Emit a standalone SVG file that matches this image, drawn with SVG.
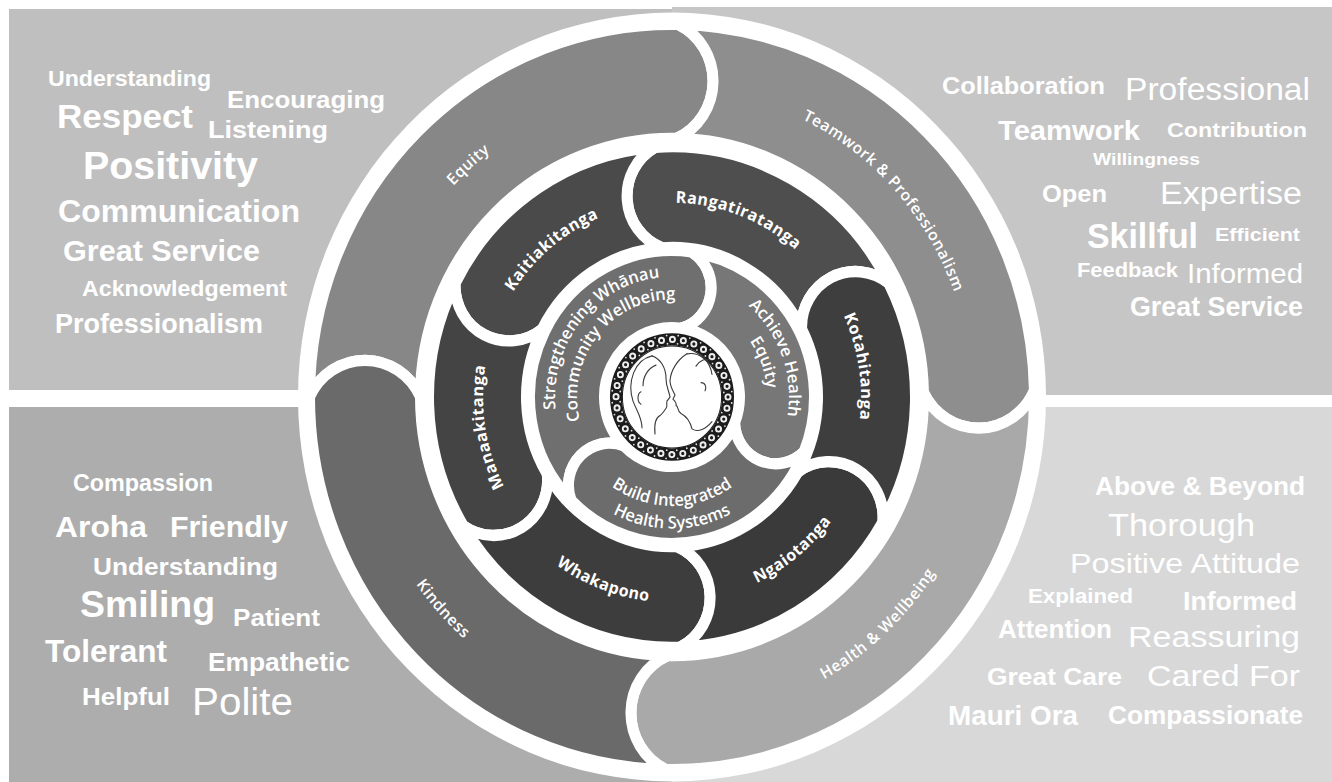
<svg xmlns="http://www.w3.org/2000/svg" width="1332" height="782" viewBox="0 0 1332 782">
<style>
.seg{stroke:#fff;stroke-width:11;stroke-linejoin:round}
.rl{font-family:"Open Sans","DejaVu Sans",sans-serif;fill:#fff}
.o{font-size:15.5px;font-weight:600;letter-spacing:0.6px}
.m{font-size:16px;font-weight:700;letter-spacing:0.5px}
.i{font-size:16.5px;font-weight:600}
.w{font-family:"Liberation Sans",Arial,sans-serif;fill:#fff;font-weight:700}
.n{font-weight:400}
.face{fill:none;stroke:#3a3a3a;stroke-width:1.1;stroke-linecap:round}
</style>
<defs>
<path id="tEquity" d="M -293.44,62.37 A 300 300 0 0 1 92.71,-285.32"/>
<path id="tTeam" d="M -62.37,-293.44 A 300 300 0 0 1 285.32,92.71"/>
<path id="tHealthW" d="M -91.80,300.28 A 314 314 0 0 0 305.95,-70.63"/>
<path id="tKind" d="M -298.63,-97.03 A 314 314 0 0 0 65.28,307.14"/>
<path id="tKait" d="M -186.13,32.82 A 189 189 0 0 1 64.64,-177.60"/>
<path id="tRang" d="M -118.94,-146.88 A 189 189 0 0 1 186.67,-29.57"/>
<path id="tKota" d="M 67.73,-176.45 A 189 189 0 0 1 118.94,146.88"/>
<path id="tNgai" d="M -71.67,186.72 A 200 200 0 0 0 197.54,-31.29"/>
<path id="tWhak" d="M -197.54,31.29 A 200 200 0 0 0 125.86,155.43"/>
<path id="tMana" d="M -67.73,176.45 A 189 189 0 0 1 -118.94,-146.88"/>
<path id="tStr1" d="M -88.30,76.76 A 117 117 0 0 1 56.72,-102.33"/>
<path id="tStr2" d="M -71.70,62.33 A 95 95 0 0 1 46.06,-83.09"/>
<path id="tAch1" d="M -20.32,-115.22 A 117 117 0 0 1 58.5,101.32"/>
<path id="tAch2" d="M -16.50,-93.56 A 95 95 0 0 1 47.5,82.27"/>
<path id="tBld1" d="M -99.61,36.25 A 106 106 0 0 0 99.61,36.25"/>
<path id="tBld2" d="M -120.28,43.78 A 128 128 0 0 0 120.28,43.78"/>
</defs>
<rect width="1332" height="782" fill="#fff"/>
<g id="panel-top-left">
<rect x="9" y="9" width="663" height="381" fill="#bfbfbf"/>
<text class="w" x="48" y="86" font-size="22" textLength="163" lengthAdjust="spacingAndGlyphs">Understanding</text>
<text class="w" x="227" y="108" font-size="24" textLength="158" lengthAdjust="spacingAndGlyphs">Encouraging</text>
<text class="w" x="57" y="128" font-size="33" textLength="136" lengthAdjust="spacingAndGlyphs">Respect</text>
<text class="w" x="208" y="138" font-size="24" textLength="120" lengthAdjust="spacingAndGlyphs">Listening</text>
<text class="w" x="83" y="179" font-size="38" textLength="175" lengthAdjust="spacingAndGlyphs">Positivity</text>
<text class="w" x="58" y="222" font-size="31" textLength="242" lengthAdjust="spacingAndGlyphs">Communication</text>
<text class="w" x="63" y="261" font-size="30" textLength="197" lengthAdjust="spacingAndGlyphs">Great Service</text>
<text class="w" x="82" y="296" font-size="22" textLength="205" lengthAdjust="spacingAndGlyphs">Acknowledgement</text>
<text class="w" x="55" y="333" font-size="27" textLength="208" lengthAdjust="spacingAndGlyphs">Professionalism</text>
</g>
<g id="panel-top-right">
<rect x="672" y="7" width="660" height="388" fill="#c6c6c6"/>
<text class="w" x="942" y="94" font-size="24" textLength="163" lengthAdjust="spacingAndGlyphs">Collaboration</text>
<text class="w n" x="1125" y="100" font-size="31" textLength="185" lengthAdjust="spacingAndGlyphs">Professional</text>
<text class="w" x="998" y="140" font-size="28" textLength="142" lengthAdjust="spacingAndGlyphs">Teamwork</text>
<text class="w" x="1167" y="137" font-size="21" textLength="140" lengthAdjust="spacingAndGlyphs">Contribution</text>
<text class="w" x="1093" y="165" font-size="17" textLength="107" lengthAdjust="spacingAndGlyphs">Willingness</text>
<text class="w" x="1042" y="202" font-size="24" textLength="65" lengthAdjust="spacingAndGlyphs">Open</text>
<text class="w n" x="1160" y="204" font-size="31" textLength="142" lengthAdjust="spacingAndGlyphs">Expertise</text>
<text class="w" x="1087" y="248" font-size="35" textLength="111" lengthAdjust="spacingAndGlyphs">Skillful</text>
<text class="w" x="1215" y="241" font-size="18" textLength="85" lengthAdjust="spacingAndGlyphs">Efficient</text>
<text class="w" x="1077" y="277" font-size="20" textLength="101" lengthAdjust="spacingAndGlyphs">Feedback</text>
<text class="w n" x="1187" y="283" font-size="27" textLength="116" lengthAdjust="spacingAndGlyphs">Informed</text>
<text class="w" x="1130" y="316" font-size="27" textLength="173" lengthAdjust="spacingAndGlyphs">Great Service</text>
</g>
<g id="panel-bottom-left">
<rect x="9" y="407" width="663" height="375" fill="#adadad"/>
<text class="w" x="73" y="491" font-size="23" textLength="140" lengthAdjust="spacingAndGlyphs">Compassion</text>
<text class="w" x="55" y="537" font-size="30" textLength="92" lengthAdjust="spacingAndGlyphs">Aroha</text>
<text class="w" x="170" y="537" font-size="30" textLength="118" lengthAdjust="spacingAndGlyphs">Friendly</text>
<text class="w" x="93" y="575" font-size="24" textLength="185" lengthAdjust="spacingAndGlyphs">Understanding</text>
<text class="w" x="80" y="617" font-size="37" textLength="135" lengthAdjust="spacingAndGlyphs">Smiling</text>
<text class="w" x="233" y="626" font-size="24" textLength="87" lengthAdjust="spacingAndGlyphs">Patient</text>
<text class="w" x="45" y="662" font-size="31" textLength="122" lengthAdjust="spacingAndGlyphs">Tolerant</text>
<text class="w" x="208" y="671" font-size="25" textLength="142" lengthAdjust="spacingAndGlyphs">Empathetic</text>
<text class="w" x="82" y="705" font-size="24" textLength="88" lengthAdjust="spacingAndGlyphs">Helpful</text>
<text class="w n" x="192" y="715" font-size="39" textLength="101" lengthAdjust="spacingAndGlyphs">Polite</text>
</g>
<g id="panel-bottom-right">
<rect x="672" y="407" width="660" height="375" fill="#d8d8d8"/>
<text class="w" x="1095" y="495" font-size="25" textLength="210" lengthAdjust="spacingAndGlyphs">Above &amp; Beyond</text>
<text class="w n" x="1108" y="536" font-size="32" textLength="147" lengthAdjust="spacingAndGlyphs">Thorough</text>
<text class="w n" x="1070" y="573" font-size="28" textLength="230" lengthAdjust="spacingAndGlyphs">Positive Attitude</text>
<text class="w" x="1028" y="603" font-size="21" textLength="105" lengthAdjust="spacingAndGlyphs">Explained</text>
<text class="w" x="1183" y="610" font-size="26" textLength="114" lengthAdjust="spacingAndGlyphs">Informed</text>
<text class="w" x="998" y="638" font-size="25" textLength="114" lengthAdjust="spacingAndGlyphs">Attention</text>
<text class="w n" x="1128" y="647" font-size="29" textLength="172" lengthAdjust="spacingAndGlyphs">Reassuring</text>
<text class="w" x="987" y="685" font-size="24" textLength="135" lengthAdjust="spacingAndGlyphs">Great Care</text>
<text class="w n" x="1147" y="686" font-size="30" textLength="153" lengthAdjust="spacingAndGlyphs">Cared For</text>
<text class="w" x="948" y="725" font-size="27" textLength="130" lengthAdjust="spacingAndGlyphs">Mauri Ora</text>
<text class="w" x="1108" y="724" font-size="26" textLength="195" lengthAdjust="spacingAndGlyphs">Compassionate</text>
</g>
<g id="wheel" transform="translate(672,397) scale(1,1.028)">
<circle r="374" fill="#fff"/>
<g id="equity">
<path class="seg" fill="#878787" d="M -362.5,0 A 362.5 362.5 0 0 1 6.33,-362.44 A 61 61 0 0 1 4.39,-251.46 A 251.5 251.5 0 0 0 -251.5,0 A 61 61 0 0 0 -362.5,0 Z"/>
<text class="rl o"><textPath href="#tEquity" startOffset="50%" text-anchor="middle">Equity</textPath></text>
</g>
<g id="teamwork-professionalism">
<path class="seg" fill="#8e8e8e" d="M 6.33,-362.44 A 362.5 362.5 0 0 1 362.44,-6.33 A 61 61 0 0 1 251.46,-4.39 A 251.5 251.5 0 0 0 4.39,-251.46 A 61 61 0 0 0 6.33,-362.44 Z"/>
<text class="rl o"><textPath href="#tTeam" startOffset="50%" text-anchor="middle">Teamwork &amp; Professionalism</textPath></text>
</g>
<g id="health-wellbeing">
<path class="seg" fill="#a9a9a9" d="M 362.44,-6.33 A 362.5 362.5 0 0 1 -6.33,362.44 A 61 61 0 0 1 -4.39,251.46 A 251.5 251.5 0 0 0 251.46,-4.39 A 61 61 0 0 0 362.44,-6.33 Z"/>
<text class="rl o"><textPath href="#tHealthW" startOffset="50%" text-anchor="middle">Health &amp; Wellbeing</textPath></text>
</g>
<g id="kindness">
<path class="seg" fill="#6a6a6a" d="M -6.33,362.44 A 362.5 362.5 0 0 1 -362.5,0 A 61 61 0 0 1 -251.5,0 A 251.5 251.5 0 0 0 -4.39,251.46 A 61 61 0 0 0 -6.33,362.44 Z"/>
<text class="rl o"><textPath href="#tKind" startOffset="50%" text-anchor="middle">Kindness</textPath></text>
</g>
<g id="rangatiratanga">
<path class="seg" fill="#4e4e4e" d="M 216.96,-110.55 A 243.5 243.5 0 0 0 -16.99,-242.91 A 54 54 0 0 0 -10.15,-145.15 A 145.5 145.5 0 0 1 129.64,-66.06 A 54 54 0 0 1 216.96,-110.55 Z"/>
<text class="rl m"><textPath href="#tRang" startOffset="50%" text-anchor="middle">Rangatiratanga</textPath></text>
</g>
<g id="kaitiakitanga">
<path class="seg" fill="#4a4a4a" d="M -16.99,-242.91 A 243.5 243.5 0 0 0 -216.96,-110.55 A 54 54 0 0 0 -129.64,-66.06 A 145.5 145.5 0 0 1 -10.15,-145.15 A 54 54 0 0 1 -16.99,-242.91 Z"/>
<text class="rl m"><textPath href="#tKait" startOffset="50%" text-anchor="middle">Kaitiakitanga</textPath></text>
</g>
<g id="manaakitanga">
<path class="seg" fill="#444" d="M -216.96,-110.55 A 243.5 243.5 0 0 0 -208.72,125.41 A 54 54 0 0 0 -124.72,74.94 A 145.5 145.5 0 0 1 -129.64,-66.06 A 54 54 0 0 1 -216.96,-110.55 Z"/>
<text class="rl m"><textPath href="#tMana" startOffset="50%" text-anchor="middle">Manaakitanga</textPath></text>
</g>
<g id="whakapono">
<path class="seg" fill="#3d3d3d" d="M -208.72,125.41 A 243.5 243.5 0 0 0 8.50,243.35 A 54 54 0 0 0 5.08,145.41 A 145.5 145.5 0 0 1 -124.72,74.94 A 54 54 0 0 1 -208.72,125.41 Z"/>
<text class="rl m"><textPath href="#tWhak" startOffset="50%" text-anchor="middle">Whakapono</textPath></text>
</g>
<g id="ngaiotanga">
<path class="seg" fill="#3a3a3a" d="M 8.50,243.35 A 243.5 243.5 0 0 0 210.88,121.75 A 54 54 0 0 0 126.01,72.75 A 145.5 145.5 0 0 1 5.08,145.41 A 54 54 0 0 1 8.50,243.35 Z"/>
<text class="rl m"><textPath href="#tNgai" startOffset="50%" text-anchor="middle">Ngaiotanga</textPath></text>
</g>
<g id="kotahitanga">
<path class="seg" fill="#3e3e3e" d="M 210.88,121.75 A 243.5 243.5 0 0 0 216.96,-110.55 A 54 54 0 0 0 129.64,-66.06 A 145.5 145.5 0 0 1 126.01,72.75 A 54 54 0 0 1 210.88,121.75 Z"/>
<text class="rl m"><textPath href="#tKota" startOffset="50%" text-anchor="middle">Kotahitanga</textPath></text>
</g>
<g id="strengthening-whanau">
<path class="seg" fill="#6f6f6f" d="M -100.76,100.76 A 142.5 142.5 0 0 1 19.83,-141.11 A 41 41 0 0 1 9.39,-66.84 A 67.5 67.5 0 0 0 -47.73,47.73 A 41 41 0 0 0 -100.76,100.76 Z"/>
<text class="rl i"><textPath href="#tStr1" startOffset="50%" text-anchor="middle">Strengthening Whānau</textPath></text>
<text class="rl i"><textPath href="#tStr2" startOffset="50%" text-anchor="middle">Community Wellbeing</textPath></text>
</g>
<g id="achieve-health-equity">
<path class="seg" fill="#777" d="M 19.83,-141.11 A 142.5 142.5 0 0 1 132.12,53.38 A 41 41 0 0 1 62.58,25.29 A 67.5 67.5 0 0 0 9.39,-66.84 A 41 41 0 0 0 19.83,-141.11 Z"/>
<text class="rl i"><textPath href="#tAch1" startOffset="50%" text-anchor="middle">Achieve Health</textPath></text>
<text class="rl i"><textPath href="#tAch2" startOffset="50%" text-anchor="middle">Equity</textPath></text>
</g>
<g id="build-integrated">
<path class="seg" fill="#6c6c6c" d="M 132.12,53.38 A 142.5 142.5 0 0 1 -100.76,100.76 A 41 41 0 0 1 -47.73,47.73 A 67.5 67.5 0 0 0 62.58,25.29 A 41 41 0 0 0 132.12,53.38 Z"/>
<text class="rl i"><textPath href="#tBld1" startOffset="50%" text-anchor="middle">Build Integrated</textPath></text>
<text class="rl i"><textPath href="#tBld2" startOffset="50%" text-anchor="middle">Health Systems</textPath></text>
</g>
<g id="logo">
<circle r="63" fill="#fff"/>
<circle r="56" fill="none" stroke="#1c1c1c" stroke-width="12"/>
<circle r="56" fill="none" stroke="#eee" stroke-width="7" stroke-dasharray="0 10.996" stroke-linecap="round"/>
<circle r="56" fill="none" stroke="#1c1c1c" stroke-width="3.2" stroke-dasharray="0 10.996" stroke-linecap="round"/>
<circle r="60" fill="none" stroke="#e0e0e0" stroke-width="1.8" stroke-dasharray="0 11.78" stroke-dashoffset="5.9" stroke-linecap="round"/>
<circle r="52" fill="none" stroke="#e0e0e0" stroke-width="1.8" stroke-dasharray="0 10.21" stroke-dashoffset="5" stroke-linecap="round"/>
<circle r="49.6" fill="#fff" stroke="#1c1c1c" stroke-width="1"/>
<path class="face" d="M -20,-40 C -11,-37 -6,-28 -6,-18 C -6,-10 -3,-6 -2,0 L -5,4 C -6,7 -4,9 -6,11 C -8,14 -10,17 -12,18 C -16,20 -18,26 -17,36"/>
<path class="face" d="M -20,-40 C -38,-36 -45,-14 -39,4 C -35,14 -30,20 -30,30"/>
<path class="face" d="M -16,-31 C -24,-28 -29,-20 -29,-11 M -31,-5 C -35,-3 -35,5 -31,7"/>
<path class="face" d="M 15,-42 C 5,-36 -1,-26 -2,-16 C -2,-10 1,-6 3,-2 L 1,2 C 3,4 5,6 4,8 C 7,10 5,14 9,16 C 13,18 18,23 20,31 C 26,35 34,31 40,24"/>
<path class="face" d="M 15,-42 C 27,-44 38,-36 40,-22 M 24,-30 C 28,-36 34,-38 38,-36 M 29,-14 C 33,-14 35,-10 33,-6"/>
</g>
</g>
</svg>
